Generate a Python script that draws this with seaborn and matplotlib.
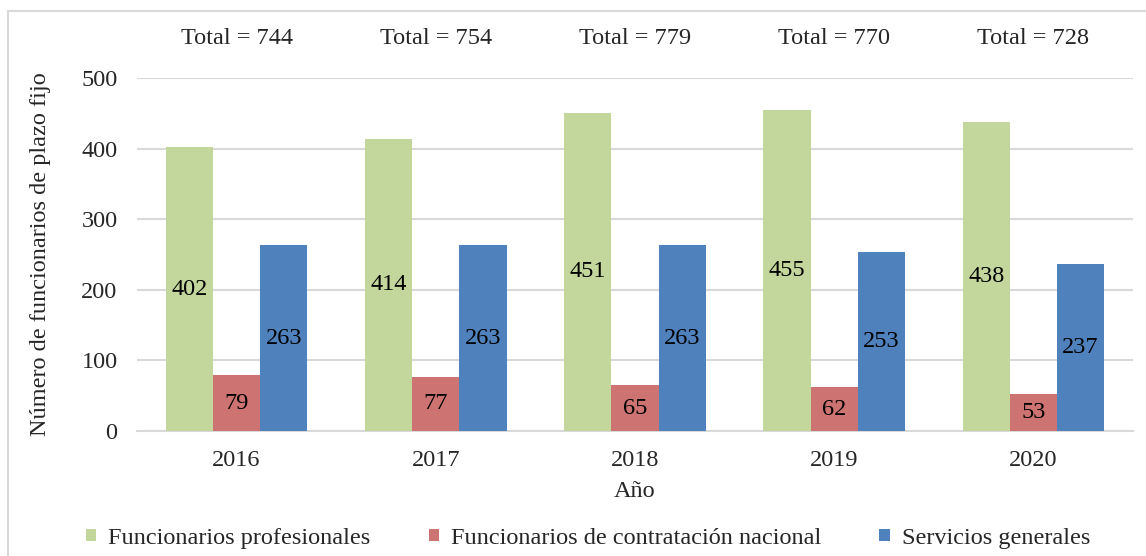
import numpy as np
import pandas as pd
import matplotlib
matplotlib.use("Agg")
import matplotlib.pyplot as plt
from matplotlib.patches import Patch, Rectangle
import seaborn as sns

years = ["2016", "2017", "2018", "2019", "2020"]
series_names = ["Funcionarios profesionales",
                "Funcionarios de contratación nacional",
                "Servicios generales"]
profesionales = [402, 414, 451, 455, 438]
contratacion_nacional = [79, 77, 65, 62, 53]
servicios_generales = [263, 263, 263, 253, 237]
colors = ["#C3D69B", "#CD7371", "#4F81BD"]

df = pd.DataFrame({
    "Año": years * 3,
    "valor": profesionales + contratacion_nacional + servicios_generales,
    "serie": [series_names[0]] * 5 + [series_names[1]] * 5 + [series_names[2]] * 5,
})
totals = np.array(profesionales) + np.array(contratacion_nacional) + np.array(servicios_generales)

sns.set_style("white")
plt.rcParams['font.family'] = ['Liberation Serif', 'DejaVu Serif']
FS = 17.5

fig = plt.figure(figsize=(11.46, 5.56), dpi=100)
ax = fig.add_axes([0.1195, 0.2248, 0.8692, 0.6349])

sns.barplot(data=df, x="Año", y="valor", hue="serie", palette=colors,
            width=0.71, gap=0, saturation=1, legend=False, linewidth=0,
            ax=ax, zorder=3)

for cont in ax.containers:
    ax.bar_label(cont, label_type="center", fontsize=FS, color="black")

for i, t in enumerate(totals):
    ax.text(i, 556, f"Total = {t}", ha="center", va="center", fontsize=FS)

ax.set_xlim(-0.5, 4.5)
ax.set_ylim(0, 500)
ax.set_yticks([0, 100, 200, 300, 400, 500])
ax.yaxis.grid(True, color="#D9D9D9", lw=1.5, zorder=0)
ax.set_axisbelow(True)
for s in ["top", "right", "left"]:
    ax.spines[s].set_visible(False)
ax.spines["bottom"].set_color("#D9D9D9")
ax.spines["bottom"].set_linewidth(1.5)
ax.tick_params(axis="y", length=0, pad=14, labelsize=FS)
ax.tick_params(axis="x", length=0, pad=14, labelsize=FS)
ax.set_xlabel("Año", fontsize=FS, labelpad=7)
ax.set_ylabel("Número de funcionarios de plazo fijo", fontsize=FS, labelpad=22)

handles = [Patch(facecolor=c, edgecolor="none") for c in colors]
fig.legend(handles, series_names, loc="center", bbox_to_anchor=(0.513, 0.032),
           ncol=3, frameon=False, fontsize=FS, handlelength=0.42, handleheight=0.42,
           handletextpad=0.5, columnspacing=2.4)

fig.patches.append(Rectangle((0.007, -0.01), 1.0, 0.99, transform=fig.transFigure,
                             fill=False, edgecolor="#D9D9D9", lw=1.5))

fig.savefig("out.png", dpi=100)
